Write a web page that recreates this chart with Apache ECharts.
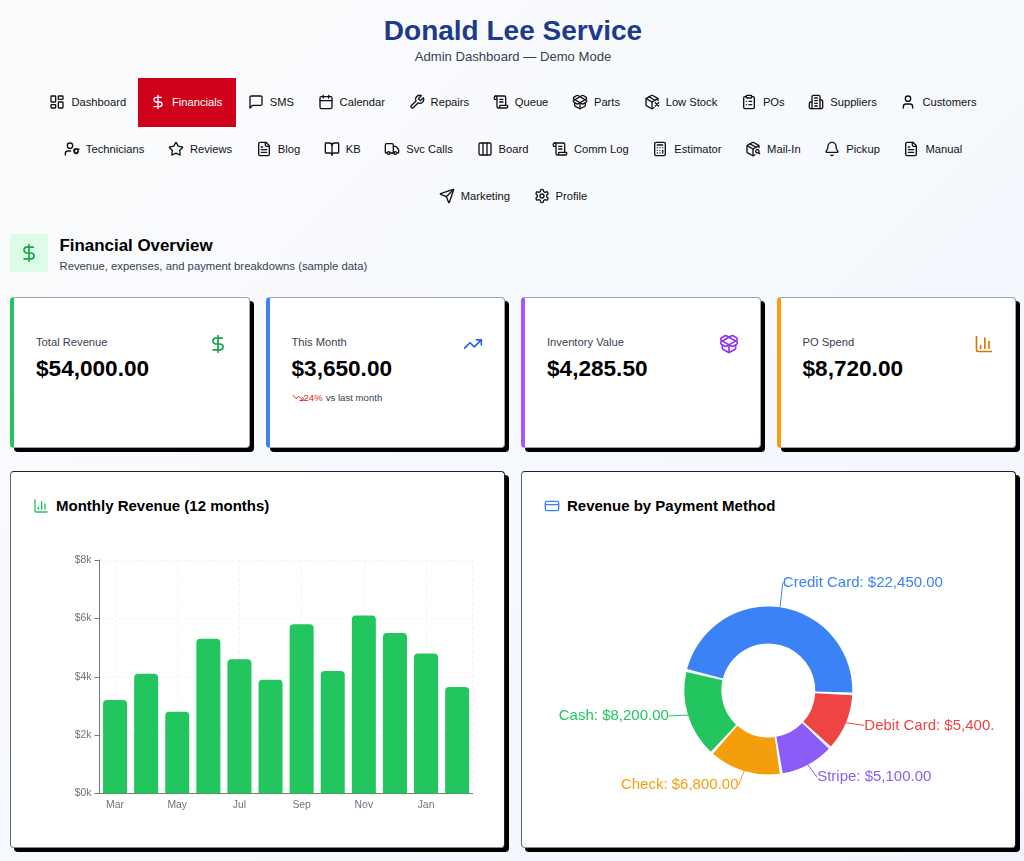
<!DOCTYPE html>
<html>
<head>
<meta charset="utf-8">
<title>Donald Lee Service</title>
<script src="https://cdn.jsdelivr.net/npm/echarts@6/dist/echarts.min.js"></script>
<style>
* { box-sizing: border-box; }
html, body { margin: 0; height: 861px; overflow: hidden; }
body { padding: 0 8px 0 10px; font-family: "Liberation Sans", Arial, sans-serif; color: #000; background: linear-gradient(135deg, #fbfcfd 0%, #f1f6fe 100%); }
svg.ico { fill: none; stroke: currentColor; stroke-width: 2; stroke-linecap: round; stroke-linejoin: round; flex: none; display: block; }
h1 { margin: 14px 0 0; font-size: 28px; line-height: 34px; font-weight: 700; text-align: center; color: #1e3a8a; }
.sub { margin: 1px 0 0; font-size: 13.1px; line-height: 16px; text-align: center; color: #374151; }
.nav { display: flex; flex-wrap: wrap; justify-content: center; margin-top: 13.5px; }
.nav a { display: flex; align-items: center; height: 47px; padding: 0 11.8px; gap: 6px; font-size: 11.2px; color: #111; }
.nav a.on { background: #d0021b; color: #fff; margin: -1px 0; width: 98px; height: 49px; border: 1px solid #c8001a; padding: 0 0 0 11px; }
.head { position: relative; margin-top: 14.5px; height: 38px; }
.head .box { position: absolute; left: 0; top: 0; width: 38px; height: 38px; background: #dcfce7; color: #16a34a; display: flex; align-items: center; justify-content: center; }
.head h2 { position: absolute; left: 49.5px; top: 2px; margin: 0; font-size: 16.9px; line-height: 20px; font-weight: 700; }
.head p { position: absolute; left: 49.5px; top: 25px; margin: 0; font-size: 11.3px; line-height: 14px; color: #374151; }
.kpis { display: grid; grid-template-columns: repeat(4, 1fr); gap: 16px; margin-top: 25px; }
.kpi { position: relative; height: 150.5px; background: #fff; border: 1px solid #9ca3af; border-left-width: 4px; border-radius: 4px; box-shadow: 4px 4px 0 #000; padding: 37px 22px 0; }
.kpi .lb { font-size: 11.2px; line-height: 14px; color: #374151; }
.kpi .val { margin-top: 7px; font-size: 22.6px; line-height: 26px; font-weight: 700; }
.kpi .ic { position: absolute; right: 21px; top: 36px; }
.kpi .tr { display: flex; align-items: center; margin-top: 10px; font-size: 9.6px; line-height: 12px; color: #374151; }
.kpi .tr b { font-weight: 400; color: #dc2626; display: flex; align-items: center; margin-right: 3px; }
.cards { display: grid; grid-template-columns: 1fr 1fr; gap: 16px; margin-top: 23.5px; }
.card { position: relative; height: 377px; background: #fff; border: 1px solid #222; border-left-color: #666; border-bottom-color: #888; border-radius: 4px; box-shadow: 4px 4px 0 #000; }
.card .tt { position: absolute; left: 22px; top: 24px; display: flex; align-items: center; gap: 7px; font-size: 15px; line-height: 20px; font-weight: 700; }
.chart { position: absolute; left: 21px; top: 68px; width: 451px; height: 300px; overflow: hidden; }
</style>
</head>
<body>
<h1>Donald Lee Service</h1>
<p class="sub">Admin Dashboard — Demo Mode</p>
<div class="nav" id="nav"></div>
<div class="head">
	<div class="box" id="headIcon"></div>
	<h2>Financial Overview</h2>
	<p>Revenue, expenses, and payment breakdowns (sample data)</p>
</div>
<div class="kpis" id="kpis"></div>
<div class="cards">
	<div class="card"><div class="tt" id="barTitle"></div><div class="chart" id="barChart"></div></div>
	<div class="card"><div class="tt" id="pieTitle"></div><div class="chart" id="pieChart"></div></div>
</div>
<script>
//月度收入
var months = ['Mar', 'Apr', 'May', 'Jun', 'Jul', 'Aug', 'Sep', 'Oct', 'Nov', 'Dec', 'Jan', 'Feb'];
var monthlyRevenue = [3200, 4100, 2800, 5300, 4600, 3900, 5800, 4200, 6100, 5500, 4800, 3650];
//支付方式
var payMethods = ['Credit Card', 'Cash', 'Check', 'Stripe', 'Debit Card'];
var payValues = [22450, 8200, 6800, 5100, 5400];
var payColors = ['#3b82f6', '#22c55e', '#f59e0b', '#8b5cf6', '#ef4444'];
//顶部导航
var navItems = [['Dashboard', 'dash'], ['Financials', 'dollar'], ['SMS', 'msg'], ['Calendar', 'cal'], ['Repairs', 'wrench'], ['Queue', 'scroll'], ['Parts', 'pkgOpen'], ['Low Stock', 'pkgX'], ['POs', 'clip'], ['Suppliers', 'bld'], ['Customers', 'user'], ['Technicians', 'userCog'], ['Reviews', 'star'], ['Blog', 'file'], ['KB', 'book'], ['Svc Calls', 'truck'], ['Board', 'cols'], ['Comm Log', 'scroll'], ['Estimator', 'calc'], ['Mail-In', 'pkgSearch'], ['Pickup', 'bell'], ['Manual', 'file'], ['Marketing', 'send'], ['Profile', 'gear']];
var kpiLabels = ['Total Revenue', 'This Month', 'Inventory Value', 'PO Spend'];
var kpiValues = ['$54,000.00', '$3,650.00', '$4,285.50', '$8,720.00'];
var kpiIcons = ['dollar', 'trendUp', 'pkgOpen', 'barIco'];
var kpiBorders = ['#22c55e', '#3b82f6', '#a855f7', '#f59e0b'];
var kpiIconColors = ['#16a34a', '#2563eb', '#9333ea', '#d97706'];

var pkgBase = '<path d="M21 10V8a2 2 0 0 0-1-1.73l-7-4a2 2 0 0 0-2 0l-7 4A2 2 0 0 0 3 8v8a2 2 0 0 0 1 1.73l7 4a2 2 0 0 0 2 0l2-1.14"/><path d="M16.5 9.4 7.55 4.24"/><polyline points="3.29 7 12 12 20.71 7"/><line x1="12" x2="12" y1="22" y2="12"/>';
var icons = {
	dash: '<rect width="7" height="9" x="3" y="3" rx="1"/><rect width="7" height="5" x="14" y="3" rx="1"/><rect width="7" height="9" x="14" y="12" rx="1"/><rect width="7" height="5" x="3" y="16" rx="1"/>',
	dollar: '<line x1="12" x2="12" y1="2" y2="22"/><path d="M17 5H9.5a3.5 3.5 0 0 0 0 7h5a3.5 3.5 0 0 1 0 7H6"/>',
	msg: '<path d="M21 15a2 2 0 0 1-2 2H7l-4 4V5a2 2 0 0 1 2-2h14a2 2 0 0 1 2 2z"/>',
	cal: '<path d="M8 2v4"/><path d="M16 2v4"/><rect width="18" height="18" x="3" y="4" rx="2"/><path d="M3 10h18"/>',
	wrench: '<path d="M14.7 6.3a1 1 0 0 0 0 1.4l1.6 1.6a1 1 0 0 0 1.4 0l3.77-3.77a6 6 0 0 1-7.94 7.94l-6.91 6.91a2.12 2.12 0 0 1-3-3l6.91-6.91a6 6 0 0 1 7.94-7.94l-3.76 3.76z"/>',
	scroll: '<path d="M15 12h-5"/><path d="M15 8h-5"/><path d="M19 17V5a2 2 0 0 0-2-2H4"/><path d="M8 21h12a2 2 0 0 0 2-2v-1a1 1 0 0 0-1-1H11a1 1 0 0 0-1 1v1a2 2 0 1 1-4 0V5a2 2 0 1 0-4 0v2a1 1 0 0 0 1 1h3"/>',
	pkgOpen: '<path d="M12 22v-9"/><path d="M15.17 2.21a1.67 1.67 0 0 1 1.63 0L21 4.57a1.93 1.93 0 0 1 0 3.36L8.82 14.79a1.655 1.655 0 0 1-1.64 0L3 12.43a1.93 1.93 0 0 1 0-3.36z"/><path d="M20 13v3.87a2.06 2.06 0 0 1-1.11 1.83l-6 3.08a1.93 1.93 0 0 1-1.78 0l-6-3.08A2.06 2.06 0 0 1 4 16.87V13"/><path d="M21 12.43a1.93 1.93 0 0 0 0-3.36L8.83 2.2a1.64 1.64 0 0 0-1.63 0L3 4.57a1.93 1.93 0 0 0 0 3.36l12.18 6.86a1.636 1.636 0 0 0 1.63 0z"/>',
	pkgX: pkgBase + '<path d="m17 13 5 5m-5 0 5-5"/>',
	pkgSearch: pkgBase + '<circle cx="18.5" cy="15.5" r="2.5"/><path d="M20.27 17.27 22 19"/>',
	clip: '<rect width="8" height="4" x="8" y="2" rx="1"/><path d="M16 4h2a2 2 0 0 1 2 2v14a2 2 0 0 1-2 2H6a2 2 0 0 1-2-2V6a2 2 0 0 1 2-2h2"/><path d="M12 11h4"/><path d="M12 16h4"/><path d="M8 11h.01"/><path d="M8 16h.01"/>',
	bld: '<path d="M6 22V4a2 2 0 0 1 2-2h8a2 2 0 0 1 2 2v18Z"/><path d="M6 12H4a2 2 0 0 0-2 2v6a2 2 0 0 0 2 2h2"/><path d="M18 9h2a2 2 0 0 1 2 2v9a2 2 0 0 1-2 2h-2"/><path d="M10 6h4"/><path d="M10 10h4"/><path d="M10 14h4"/><path d="M10 18h4"/>',
	user: '<path d="M19 21v-2a4 4 0 0 0-4-4H9a4 4 0 0 0-4 4v2"/><circle cx="12" cy="7" r="4"/>',
	userCog: '<path d="M10 15H6a4 4 0 0 0-4 4v2"/><circle cx="9" cy="7" r="4"/><circle cx="18" cy="15" r="3"/><path d="m21.7 16.4-.9-.3m-5.6-2.2-.9-.3m2.6 5.4.3-.9m2.2-5.6.3-.9m.3 7.4-.4-1m-2.4-5.4-.4-1m-1.5 3.9 1-.4m5.4-2.4 1-.4"/>',
	star: '<path d="M11.525 2.295a.53.53 0 0 1 .95 0l2.31 4.679a2.123 2.123 0 0 0 1.595 1.16l5.166.756a.53.53 0 0 1 .294.904l-3.736 3.638a2.123 2.123 0 0 0-.611 1.878l.882 5.14a.53.53 0 0 1-.771.56l-4.618-2.428a2.122 2.122 0 0 0-1.973 0L6.396 21.01a.53.53 0 0 1-.77-.56l.881-5.139a2.122 2.122 0 0 0-.611-1.879L2.16 9.795a.53.53 0 0 1 .294-.906l5.165-.755a2.122 2.122 0 0 0 1.597-1.16z"/>',
	file: '<path d="M15 2H6a2 2 0 0 0-2 2v16a2 2 0 0 0 2 2h12a2 2 0 0 0 2-2V7Z"/><path d="M14 2v4a2 2 0 0 0 2 2h4"/><path d="M10 9H8"/><path d="M16 13H8"/><path d="M16 17H8"/>',
	book: '<path d="M12 7v14"/><path d="M3 18a1 1 0 0 1-1-1V4a1 1 0 0 1 1-1h5a4 4 0 0 1 4 4 4 4 0 0 1 4-4h5a1 1 0 0 1 1 1v13a1 1 0 0 1-1 1h-6a3 3 0 0 0-3 3 3 3 0 0 0-3-3z"/>',
	truck: '<path d="M14 18V6a2 2 0 0 0-2-2H4a2 2 0 0 0-2 2v11a1 1 0 0 0 1 1h2"/><path d="M15 18H9"/><path d="M19 18h2a1 1 0 0 0 1-1v-3.65a1 1 0 0 0-.22-.624l-3.48-4.35A1 1 0 0 0 17.52 8H14"/><circle cx="17" cy="18" r="2"/><circle cx="7" cy="18" r="2"/>',
	cols: '<rect width="18" height="18" x="3" y="3" rx="2"/><path d="M9 3v18"/><path d="M15 3v18"/>',
	calc: '<rect width="16" height="20" x="4" y="2" rx="2"/><line x1="8" x2="16" y1="6" y2="6"/><line x1="16" x2="16" y1="14" y2="18"/><path d="M16 10h.01"/><path d="M12 10h.01"/><path d="M8 10h.01"/><path d="M12 14h.01"/><path d="M8 14h.01"/><path d="M12 18h.01"/><path d="M8 18h.01"/>',
	bell: '<path d="M10.268 21a2 2 0 0 0 3.464 0"/><path d="M3.262 15.326A1 1 0 0 0 4 17h16a1 1 0 0 0 .74-1.673C19.41 13.956 18 12.499 18 8A6 6 0 0 0 6 8c0 4.499-1.411 5.956-2.738 7.326"/>',
	send: '<path d="M14.536 21.686a.5.5 0 0 0 .937-.024l6.5-19a.496.496 0 0 0-.635-.635l-19 6.5a.5.5 0 0 0-.024.937l7.93 3.18a2 2 0 0 1 1.112 1.11z"/><path d="m21.854 2.147-10.94 10.939"/>',
	gear: '<path d="M12.22 2h-.44a2 2 0 0 0-2 2v.18a2 2 0 0 1-1 1.73l-.43.25a2 2 0 0 1-2 0l-.15-.08a2 2 0 0 0-2.73.73l-.22.38a2 2 0 0 0 .73 2.73l.15.1a2 2 0 0 1 1 1.72v.51a2 2 0 0 1-1 1.74l-.15.09a2 2 0 0 0-.73 2.73l.22.38a2 2 0 0 0 2.73.73l.15-.08a2 2 0 0 1 2 0l.43.25a2 2 0 0 1 1 1.73V20a2 2 0 0 0 2 2h.44a2 2 0 0 0 2-2v-.18a2 2 0 0 1 1-1.73l.43-.25a2 2 0 0 1 2 0l.15.08a2 2 0 0 0 2.73-.73l.22-.39a2 2 0 0 0-.73-2.73l-.15-.08a2 2 0 0 1-1-1.74v-.5a2 2 0 0 1 1-1.74l.15-.09a2 2 0 0 0 .73-2.73l-.22-.38a2 2 0 0 0-2.73-.73l-.15.08a2 2 0 0 1-2 0l-.43-.25a2 2 0 0 1-1-1.73V4a2 2 0 0 0-2-2z"/><circle cx="12" cy="12" r="3"/>',
	trendUp: '<polyline points="22 7 13.5 15.5 8.5 10.5 2 17"/><polyline points="16 7 22 7 22 13"/>',
	trendDown: '<polyline points="22 17 13.5 8.5 8.5 13.5 2 7"/><polyline points="16 17 22 17 22 11"/>',
	barIco: '<path d="M3 3v16a2 2 0 0 0 2 2h16"/><path d="M18 17V9"/><path d="M13 17V5"/><path d="M8 17v-3"/>',
	card: '<rect width="20" height="14" x="2" y="5" rx="2"/><line x1="2" x2="22" y1="10" y2="10"/>'
};

var svgIcon = function(name, size, color) {
	return '<svg class="ico" viewBox="0 0 24 24" width="' + size + '" height="' + size + '"' + (color ? ' style="color:' + color + '"' : '') + '>' + icons[name] + '</svg>';
};

/**
 * @desc 页面框架（导航、指标卡、标题）
 */
var renderFrame = function() {
	var html = '';
	for(var i = 0; i < navItems.length; i++) {
		html += '<a' + (navItems[i][0] == 'Financials' ? ' class="on"' : '') + '>' + svgIcon(navItems[i][1], 16) + navItems[i][0] + '</a>';
	}
	document.getElementById('nav').innerHTML = html;
	document.getElementById('headIcon').innerHTML = svgIcon('dollar', 20);
	html = '';
	for(var k = 0; k < kpiLabels.length; k++) {
		html += '<div class="kpi" style="border-left-color:' + kpiBorders[k] + '"><div class="lb">' + kpiLabels[k] + '</div><div class="val">' + kpiValues[k] + '</div>';
		html += '<div class="ic">' + svgIcon(kpiIcons[k], 20, kpiIconColors[k]) + '</div>';
		if(k == 1) {
			html += '<div class="tr"><b>' + svgIcon('trendDown', 12, '#dc2626') + '24%</b>vs last month</div>';
		}
		html += '</div>';
	}
	document.getElementById('kpis').innerHTML = html;
	document.getElementById('barTitle').innerHTML = svgIcon('barIco', 16, '#22c55e') + 'Monthly Revenue (12 months)';
	document.getElementById('pieTitle').innerHTML = svgIcon('card', 16, '#3b82f6') + 'Revenue by Payment Method';
};

var initBar = function() {
	var chart = echarts.init(document.getElementById('barChart'));
	var gridLine = { show: true, lineStyle: { color: '#f1f2f4', type: [3, 3], width: 1 } };
	chart.setOption({
		animation: false,
		textStyle: { fontFamily: 'Liberation Sans' },
		grid: { left: 67.5, right: 10.3, top: 20, height: 233.5 },
		xAxis: [{
			type: 'category',
			data: months,
			axisLine: { lineStyle: { color: '#777', width: 1 } },
			axisTick: { alignWithLabel: true, interval: 1, length: 5, lineStyle: { color: '#777' } },
			axisLabel: { interval: 1, color: '#6b7280', fontSize: 10.4, margin: 7 },
			splitLine: { show: true, interval: 1, alignWithLabel: true, lineStyle: gridLine.lineStyle }
		}, {
			type: 'value', position: 'bottom', min: 0, max: 1, interval: 1,
			axisLine: { show: false }, axisTick: { show: false }, axisLabel: { show: false },
			splitLine: gridLine
		}],
		yAxis: {
			type: 'value',
			min: 0,
			max: 8000,
			interval: 2000,
			axisLine: { show: true, lineStyle: { color: '#777', width: 1 } },
			axisTick: { show: true, length: 5, lineStyle: { color: '#777' } },
			axisLabel: { color: '#6b7280', fontSize: 10.4, margin: 8, formatter: function(v) { return '$' + (v / 1000) + 'k'; } },
			splitLine: gridLine
		},
		series: [{
			type: 'bar',
			data: monthlyRevenue,
			barWidth: 24,
			itemStyle: { color: '#22c55e', borderRadius: [4, 4, 0, 0] }
		}]
	});
};

var initPie = function() {
	var chart = echarts.init(document.getElementById('pieChart'));
	var pieData = [];
	for(var i = 0; i < payMethods.length; i++) {
		pieData.push({ name: payMethods[i], value: payValues[i], itemStyle: { color: payColors[i] } });
	}
	chart.setOption({
		animation: false,
		textStyle: { fontFamily: 'Liberation Sans' },
		series: [{
			type: 'pie',
			center: [225.3, 150.5],
			radius: [47, 84],
			startAngle: 357.7,
			clockwise: false,
			padAngle: 2,
			avoidLabelOverlap: false,
			data: pieData,
			label: {
				color: 'inherit',
				fontSize: 15,
				fontFamily: 'Liberation Sans',
				overflow: 'none',
				distanceToLabelLine: 0,
				formatter: function(p) {
					return p.name + ': $' + p.value.toLocaleString('en-US', { minimumFractionDigits: 2 });
				}
			},
			labelLine: { length: 20, length2: 0, smooth: false, lineStyle: { width: 1 } },
			//文字贴在引线末端上方
			labelLayout: function(params) {
				var pts = params.labelLinePoints;
				var end = pts[pts.length - 1];
				return {
					x: end[0],
					y: end[1] - 5,
					align: end[0] < pts[0][0] ? 'right' : 'left',
					verticalAlign: 'middle'
				};
			}
		}]
	});
};

renderFrame();
initBar();
initPie();
</script>
</body>
</html>
